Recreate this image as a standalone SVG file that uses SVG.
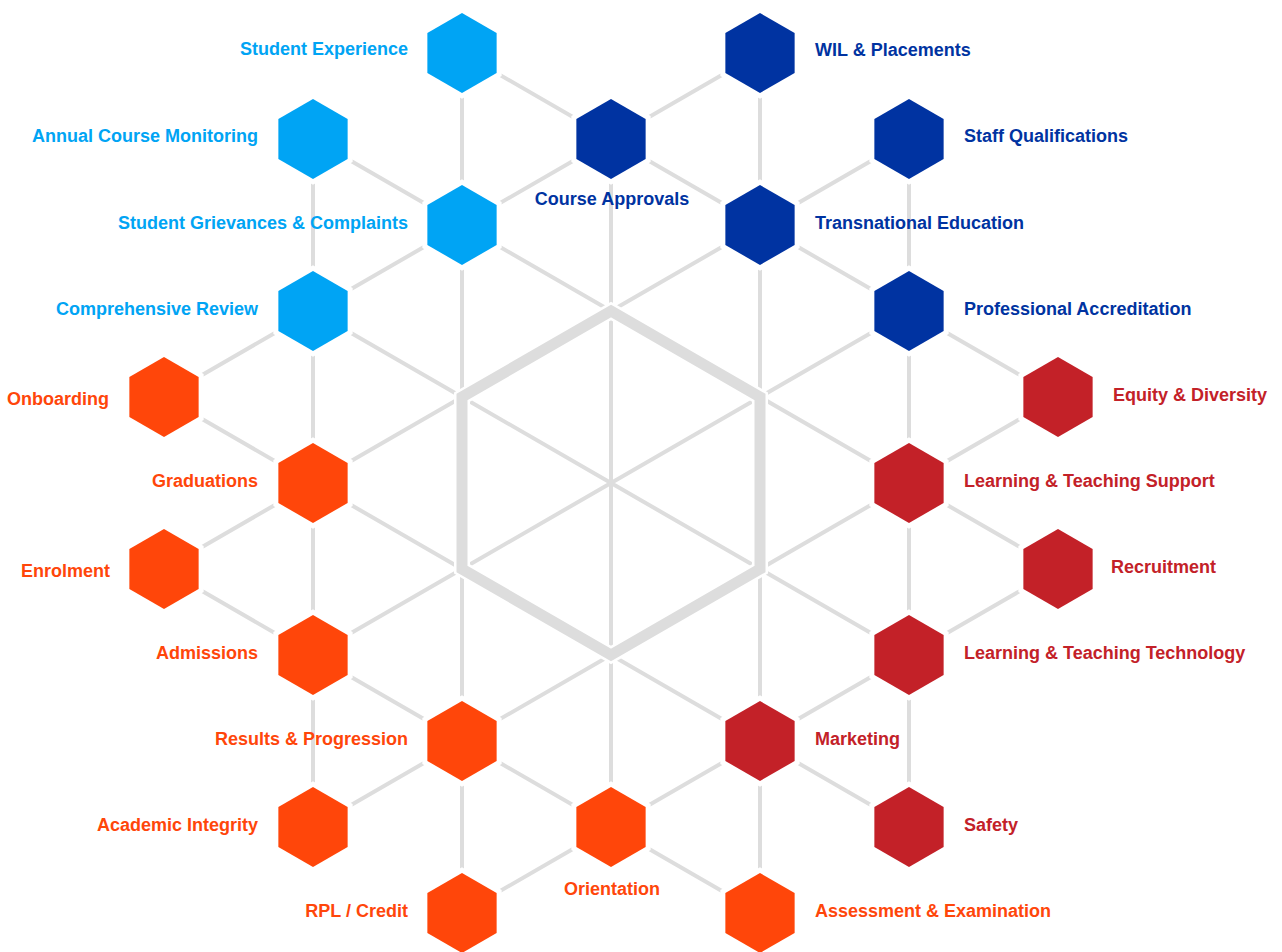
<svg xmlns="http://www.w3.org/2000/svg" width="1282" height="952" viewBox="0 0 1282 952">
<style>
.ln{stroke:#dddddd;stroke-width:4;fill:none}
.thk{stroke:#dddddd;stroke-width:11;fill:none;stroke-linejoin:miter}
.cas{stroke:#ffffff;stroke-width:16;fill:none;stroke-linejoin:miter}
.hx{stroke:#ffffff;stroke-width:10;paint-order:stroke;stroke-linejoin:miter}
.lb{fill:#00a4f4}
.db{fill:#0033a1}
.or{fill:#ff460a}
.rd{fill:#c32128}
text{font-family:"Liberation Sans",Arial,sans-serif;font-weight:bold;font-size:18px}
.e{text-anchor:end}
.m{text-anchor:middle}
</style>
<defs>
<polygon id="hex" points="0,-40 34.64,-20 34.64,20 0,40 -34.64,20 -34.64,-20"/>
</defs>
<rect width="1282" height="952" fill="#ffffff"/>
<g id="connectors">
<path class="ln" d="M462,53L462,225M462,53L611,139M760,53L760,225M760,53L611,139M611,139L462,225M611,139L760,225M611,139L611,311M313,139L462,225M313,139L313,311M909,139L760,225M909,139L909,311M462,225L313,311M462,225L611,311M462,225L462,397M760,225L909,311M760,225L611,311M760,225L760,397M313,311L164,397M313,311L462,397M313,311L313,483M909,311L1058,397M909,311L760,397M909,311L909,483M164,397L313,483M1058,397L909,483M313,483L164,569M313,483L462,397M313,483L462,569M313,483L313,655M909,483L760,397M909,483L760,569M909,483L1058,569M909,483L909,655M164,569L313,655M1058,569L909,655M313,655L462,569M313,655L462,741M313,655L313,827M909,655L760,569M909,655L760,741M909,655L909,827M462,741L462,569M462,741L611,655M462,741L313,827M462,741L611,827M462,741L462,913M760,741L760,569M760,741L611,655M760,741L909,827M760,741L611,827M760,741L760,913M611,827L611,655M611,827L462,913M611,827L760,913"/>
<path class="ln" d="M611,483L611,311M611,483L760,397M611,483L760,569M611,483L611,655M611,483L462,569M611,483L462,397"/>
<polygon class="cas" points="611,311 760,397 760,569 611,655 462,569 462,397"/>
<polygon class="thk" points="611,311 760,397 760,569 611,655 462,569 462,397"/>
</g>
<g id="node-student-experience"><use href="#hex" x="462" y="53" class="hx lb"/><text x="408" y="55" class="e lb">Student Experience</text></g>
<g id="node-wil-placements"><use href="#hex" x="760" y="53" class="hx db"/><text x="815" y="56" class="db">WIL &amp; Placements</text></g>
<g id="node-course-approvals"><use href="#hex" x="611" y="139" class="hx db"/><text x="612" y="205" class="m db">Course Approvals</text></g>
<g id="node-annual-course-monitoring"><use href="#hex" x="313" y="139" class="hx lb"/><text x="258" y="142" class="e lb">Annual Course Monitoring</text></g>
<g id="node-staff-qualifications"><use href="#hex" x="909" y="139" class="hx db"/><text x="964" y="142" class="db">Staff Qualifications</text></g>
<g id="node-student-grievances"><use href="#hex" x="462" y="225" class="hx lb"/><text x="408" y="229" class="e lb">Student Grievances &amp; Complaints</text></g>
<g id="node-transnational-education"><use href="#hex" x="760" y="225" class="hx db"/><text x="815" y="229" class="db">Transnational Education</text></g>
<g id="node-comprehensive-review"><use href="#hex" x="313" y="311" class="hx lb"/><text x="258" y="315" class="e lb">Comprehensive Review</text></g>
<g id="node-professional-accreditation"><use href="#hex" x="909" y="311" class="hx db"/><text x="964" y="315" class="db">Professional Accreditation</text></g>
<g id="node-onboarding"><use href="#hex" x="164" y="397" class="hx or"/><text x="109" y="405" class="e or">Onboarding</text></g>
<g id="node-equity-diversity"><use href="#hex" x="1058" y="397" class="hx rd"/><text x="1113" y="401" class="rd">Equity &amp; Diversity</text></g>
<g id="node-graduations"><use href="#hex" x="313" y="483" class="hx or"/><text x="258" y="487" class="e or">Graduations</text></g>
<g id="node-lt-support"><use href="#hex" x="909" y="483" class="hx rd"/><text x="964" y="487" class="rd">Learning &amp; Teaching Support</text></g>
<g id="node-enrolment"><use href="#hex" x="164" y="569" class="hx or"/><text x="110" y="577" class="e or">Enrolment</text></g>
<g id="node-recruitment"><use href="#hex" x="1058" y="569" class="hx rd"/><text x="1111" y="573" class="rd">Recruitment</text></g>
<g id="node-admissions"><use href="#hex" x="313" y="655" class="hx or"/><text x="258" y="659" class="e or">Admissions</text></g>
<g id="node-lt-technology"><use href="#hex" x="909" y="655" class="hx rd"/><text x="964" y="659" class="rd">Learning &amp; Teaching Technology</text></g>
<g id="node-results-progression"><use href="#hex" x="462" y="741" class="hx or"/><text x="408" y="745" class="e or">Results &amp; Progression</text></g>
<g id="node-marketing"><use href="#hex" x="760" y="741" class="hx rd"/><text x="815" y="745" class="rd">Marketing</text></g>
<g id="node-academic-integrity"><use href="#hex" x="313" y="827" class="hx or"/><text x="258" y="831" class="e or">Academic Integrity</text></g>
<g id="node-orientation"><use href="#hex" x="611" y="827" class="hx or"/><text x="612" y="895" class="m or">Orientation</text></g>
<g id="node-safety"><use href="#hex" x="909" y="827" class="hx rd"/><text x="964" y="831" class="rd">Safety</text></g>
<g id="node-rpl-credit"><use href="#hex" x="462" y="913" class="hx or"/><text x="408" y="917" class="e or">RPL / Credit</text></g>
<g id="node-assessment-examination"><use href="#hex" x="760" y="913" class="hx or"/><text x="815" y="917" class="or">Assessment &amp; Examination</text></g>
</svg>
